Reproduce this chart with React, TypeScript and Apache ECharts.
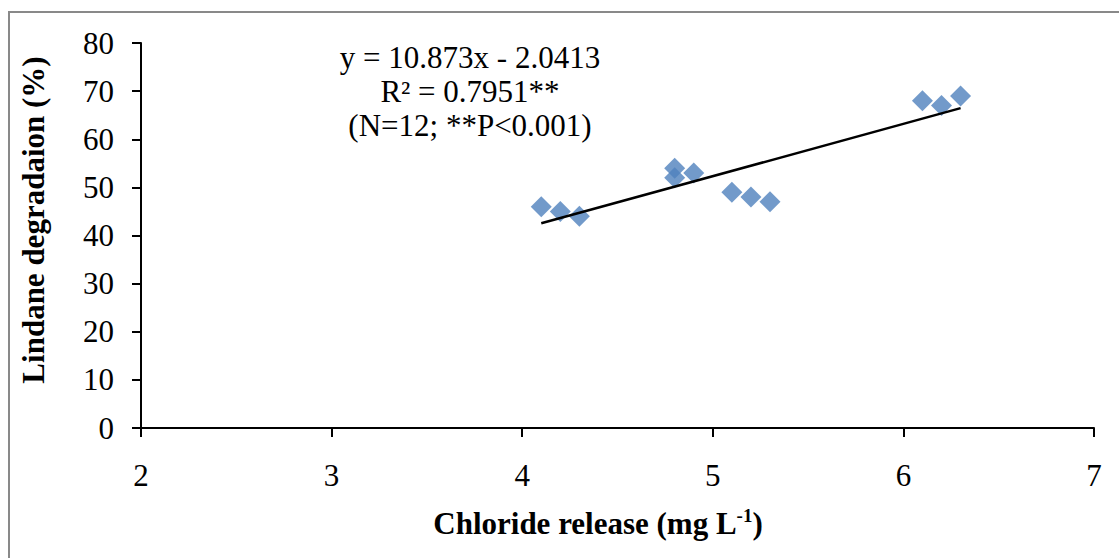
import React, { useEffect, useRef } from "react";
import * as echarts from "echarts";

const xValues = [4.1, 4.2, 4.3, 4.8, 4.8, 4.9, 5.1, 5.2, 5.3, 6.1, 6.2, 6.3];
const yValues = [46, 45, 44, 54, 52, 53, 49, 48, 47, 68, 67, 69];
const slope = 10.873;
const intercept = -2.0413;
const trendRange = [4.1, 6.3];
const equationLines = ["y = 10.873x - 2.0413", "R² = 0.7951**", "(N=12; **P<0.001)"];
const xTitle = "Chloride release (mg L";
const xTitleSup = "-1";
const yTitle = "Lindane degradaion (%)";

const FONT = "'Liberation Serif', 'Times New Roman', serif";

export default function App() {
  const ref = useRef<HTMLDivElement>(null);
  useEffect(() => {
    if (!ref.current) return;
    const chart = echarts.init(ref.current, undefined, { renderer: "svg" });
    const points = xValues.map((x, i) => [x, yValues[i]]);
    const trend = trendRange.map((x) => [x, slope * x + intercept]);
    chart.setOption({
      animation: false,
      backgroundColor: "#ffffff",
      grid: { left: 141, right: 25, top: 43, bottom: 130 },
      xAxis: {
        type: "value",
        min: 2,
        max: 7,
        interval: 1,
        axisLine: { show: true, lineStyle: { color: "#000", width: 2 } },
        axisTick: { show: true, inside: false, length: 9, lineStyle: { color: "#000", width: 2 } },
        axisLabel: { color: "#000", fontFamily: FONT, fontSize: 31, margin: 32 },
        splitLine: { show: false },
      },
      yAxis: {
        type: "value",
        min: 0,
        max: 80,
        interval: 10,
        axisLine: { show: true, lineStyle: { color: "#000", width: 2 } },
        axisTick: { show: true, inside: false, length: 9, lineStyle: { color: "#000", width: 2 } },
        axisLabel: { color: "#000", fontFamily: FONT, fontSize: 31, margin: 27 },
        splitLine: { show: false },
      },
      series: [
        {
          type: "scatter",
          data: points,
          symbol: "diamond",
          symbolSize: [21, 21],
          itemStyle: { color: "#4F81BD" },
          z: 2,
        },
        {
          type: "line",
          data: trend,
          showSymbol: false,
          symbol: "none",
          lineStyle: { color: "#000", width: 2.5 },
          z: 3,
        },
      ],
      graphic: [
        {
          type: "rect",
          shape: { x: 9, y: 12, width: 1300, height: 700 },
          style: { fill: "none", stroke: "#898989", lineWidth: 2 },
          silent: true,
        },
        ...equationLines.map((t, i) => ({
          type: "text",
          x: 470,
          y: 57 + i * 34,
          style: {
            text: t,
            fontFamily: FONT,
            fontSize: 31,
            fill: "#000",
            textAlign: "center",
            textVerticalAlign: "middle",
          },
        })),
        {
          type: "text",
          x: 598,
          y: 523,
          style: {
            text: `{b|${xTitle}}{s|${xTitleSup}}{b|)}`,
            textAlign: "center",
            textVerticalAlign: "middle",
            rich: {
              b: { fontFamily: FONT, fontSize: 31, fontWeight: "bold", fill: "#000", lineHeight: 35 },
              s: { fontFamily: FONT, fontSize: 19, fontWeight: "bold", fill: "#000", verticalAlign: "top", lineHeight: 35 },
            },
          },
        },
        {
          type: "text",
          x: 33,
          y: 220,
          rotation: Math.PI / 2,
          style: {
            text: yTitle,
            fontFamily: FONT,
            fontSize: 31,
            fontWeight: "bold",
            fill: "#000",
            textAlign: "center",
            textVerticalAlign: "middle",
          },
        },
      ],
    });
    return () => chart.dispose();
  }, []);
  return (
    <div
      ref={ref}
      style={{ position: "fixed", left: 0, top: 0, width: 1119, height: 558 }}
    />
  );
}
